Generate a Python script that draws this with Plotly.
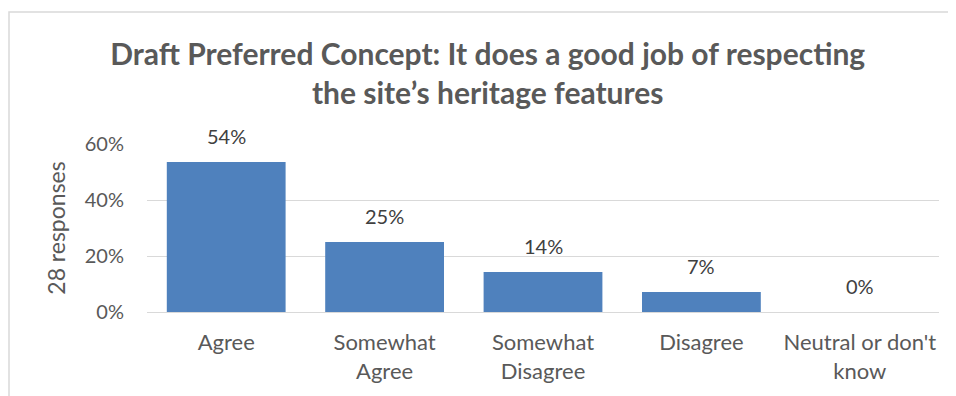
import plotly.graph_objects as go

categories = ["Agree", "Somewhat<br>Agree", "Somewhat<br>Disagree", "Disagree", "Neutral or don't<br>know"]
shares = [0.536, 0.25, 0.143, 0.071, 0.0]
y_ticks = [0, 0.2, 0.4, 0.6]
y_tick_labels = ["0%", "20%", "40%", "60%"]

grey = "#595959"
font = "Lato, 'Open Sans', sans-serif"

fig = go.Figure()
fig.add_trace(go.Bar(
    x=categories, y=shares,
    marker=dict(color="#4F81BD", line=dict(width=0)),
    hovertemplate="%{y:.0%}<extra></extra>",
))

# data labels above the bars
for c, v in zip(categories, shares):
    fig.add_annotation(x=c, y=v, text=f"{v:.0%}", showarrow=False,
                       yanchor="bottom", yshift=12,
                       font=dict(size=20, color="#404040", family=font))

# the page body adds an 8px offset, so the figure is 8px smaller than the window
W, H = 948, 388
ml, mr, mt, mb = 139, 17, 136, 84
ph = H - mt - mb
pw = W - ml - mr

fig.update_layout(
    width=W, height=H, autosize=False,
    margin=dict(l=ml, r=mr, t=mt, b=mb, autoexpand=False),
    plot_bgcolor="white", paper_bgcolor="white",
    bargap=0.25, showlegend=False,
    font=dict(family=font, color=grey),
    title=dict(
        text="<b>Draft Preferred Concept: It does a good job of respecting<br>the site\u2019s heritage features</b>",
        x=0.506, xanchor="center", y=1 - 57 / H, yanchor="top",
        font=dict(size=30, color=grey, family=font),
    ),
    xaxis=dict(tickfont=dict(size=22, color=grey), showgrid=False, showline=False,
               ticks="", automargin=False, ticklabelstandoff=15),
    yaxis=dict(
        range=[0, 0.6], tickvals=y_ticks, ticktext=y_tick_labels,
        tickfont=dict(size=20, color=grey), ticklabelstandoff=22, automargin=False,
        showgrid=True, gridcolor="#D9D9D9", gridwidth=1,
        zeroline=True, zerolinecolor="#D9D9D9", zerolinewidth=1,
        title=dict(text="28 responses", font=dict(size=23, color=grey), standoff=12),
    ),
    shapes=[dict(
        type="rect", xref="paper", yref="paper",
        x0=(1 - ml) / pw, x1=(W + 20 - ml) / pw,
        y0=-(mb + 20) / ph, y1=(H - mb - 4) / ph,
        line=dict(color="#D9D9D9", width=1.5), fillcolor="rgba(0,0,0,0)", layer="below",
    )],
)

fig.write_html("out.html")
